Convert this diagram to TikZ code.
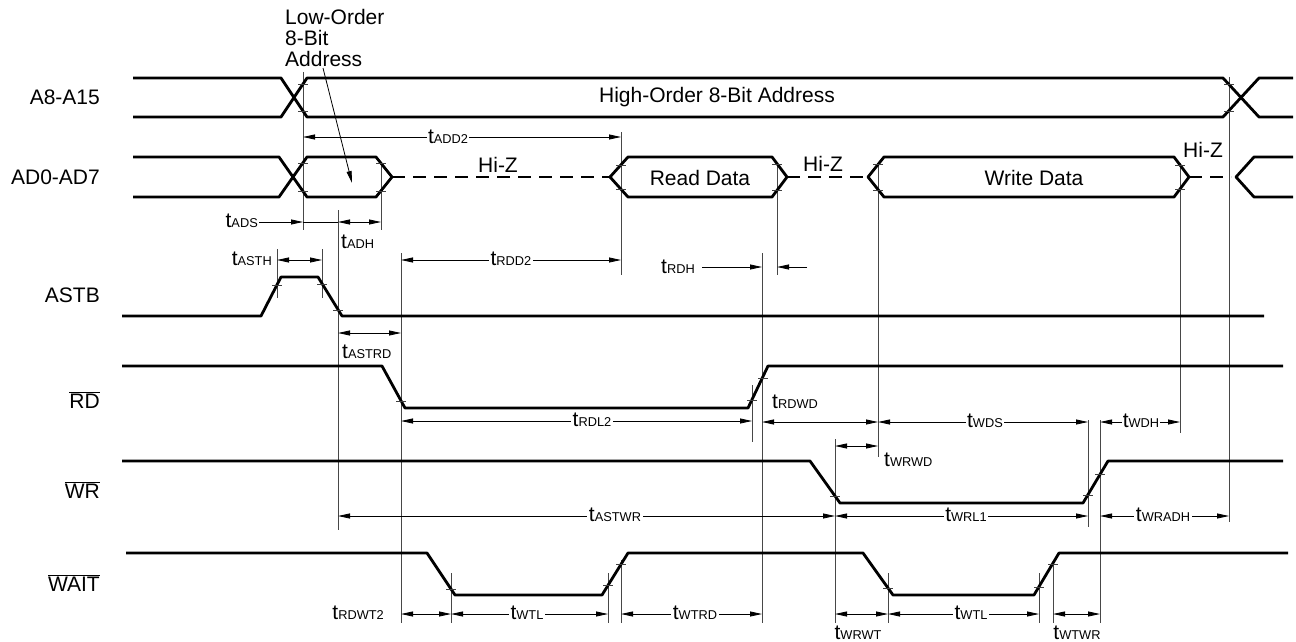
\documentclass[tikz,border=0pt]{standalone}
\usepackage{fontspec}
\setmainfont{Liberation Sans}
\usetikzlibrary{arrows.meta}
\newcommand\tlab[1]{{\fontsize{21}{21}\selectfont t}{\fontsize{12.8}{12.8}\selectfont #1}}
\newcommand\tickat[2]{\draw[tickst] (#1,#2) ++(-5,0) -- ++(10,0);}
\begin{document}
\begin{tikzpicture}[x=1pt,y=-1pt,
  font=\fontsize{21}{24}\selectfont,
  wave/.style={line width=2.8pt, line join=round},
  hiz/.style={line width=2.8pt, dash pattern=on 13pt off 8pt},
  vref/.style={line width=0.9pt, black!72},
  tickst/.style={line width=0.8pt, black!75},
  dim/.style={line width=0.8pt, {Triangle[length=12pt,width=5pt]}-{Triangle[length=12pt,width=5pt]}},
  dimr/.style={line width=0.8pt, -{Triangle[length=12pt,width=5pt]}},
  lbl/.style={fill=white, inner sep=1.5pt},
  sig/.style={anchor=east, inner sep=0pt},
  free/.style={inner sep=0pt}]
\useasboundingbox (0,0) rectangle (1296,642);

% ---------- signal names
\node[sig] (nA8) at (100,97) {A8-A15};
\node[sig] (nAD) at (100,177) {AD0-AD7};
\node[sig] (nASTB) at (100,295) {ASTB};
\node[sig] (nRD) at (100,400) {$\overline{\mbox{RD}}$};
\node[sig] (nWR) at (100,490) {$\overline{\mbox{WR}}$};
\node[sig] (nWAIT) at (100,583) {$\overline{\mbox{WAIT}}$};

% ---------- vertical reference lines
\draw[vref] (303,72) -- (303,230);
\draw[vref] (381,163) -- (381,230);
\draw[vref] (338,210) -- (338,530);
\draw[vref] (277,249) -- (277,298);
\draw[vref] (322,249) -- (322,298);
\draw[vref] (401,253) -- (401,623);
\draw[vref] (621,132) -- (621,275);
\draw[vref] (777,163) -- (777,275);
\draw[vref] (762,253) -- (762,623);
\draw[vref] (752,385) -- (752,442);
\draw[vref] (878,163) -- (878,457);
\draw[vref] (835,439) -- (835,623);
\draw[vref] (1088,420) -- (1088,527);
\draw[vref] (1100,420) -- (1100,623);
\draw[vref] (1180,163) -- (1180,433);
\draw[vref] (1229,77) -- (1229,522);
\draw[vref] (451,573) -- (451,623);
\draw[vref] (608,573) -- (608,623);
\draw[vref] (621,560) -- (621,623);
\draw[vref] (888,573) -- (888,623);
\draw[vref] (1039,573) -- (1039,623);
\draw[vref] (1053,560) -- (1053,623);

% ---------- A8-A15
\draw[wave] (133,78) -- (281,78) -- (307,117) -- (1223,117) -- (1259,78) -- (1293,78);
\draw[wave] (133,117) -- (281,117) -- (307,78) -- (1223,78) -- (1259,117) -- (1293,117);
\node[free] (hoa) at (717,97) {High-Order 8-Bit Address};
\tickat{303}{84}\tickat{303}{111}\tickat{1229}{84}\tickat{1229}{111}

% ---------- AD0-AD7
\draw[wave] (133,157) -- (279,157) -- (307,197) -- (376,197) -- (392,177) -- (376,157) -- (307,157) -- (279,197) -- (133,197);
\draw[hiz] (392,177) -- (610,177);
\draw[wave] (610,177) -- (628,157) -- (772,157) -- (787,177) -- (772,197) -- (628,197) -- cycle;
\draw[hiz] (787,177) -- (868,177);
\draw[wave] (868,177) -- (884,157) -- (1174,157) -- (1189,177) -- (1174,197) -- (884,197) -- cycle;
\draw[hiz] (1189,177) -- (1231,177);
\draw[wave] (1293,157) -- (1254,157) -- (1236,177) -- (1254,197) -- (1293,197);
\node[free] (rdata) at (700,178) {Read Data};
\node[free] (wdata) at (1034,178) {Write Data};
\node[free] (hz1) at (498,165) {Hi-Z};
\node[free] (hz2) at (823,164) {Hi-Z};
\node[free] (hz3) at (1203,150) {Hi-Z};
\tickat{303}{163}\tickat{303}{191}\tickat{381}{163}\tickat{381}{191}
\tickat{621}{165}\tickat{621}{189}\tickat{777}{164}\tickat{777}{190}
\tickat{878}{164}\tickat{878}{190}\tickat{1180}{165}\tickat{1180}{189}

% Low-order address annotation
\node[anchor=north west, inner sep=0pt, align=left, font=\fontsize{21}{21}\selectfont] (loa) at (285,9) {Low-Order\\8-Bit\\Address};
\coordinate (loaTip) at (352,183);
\draw[line width=0.8pt, -{Triangle[length=12pt,width=5pt]}] (323,68) -- (loaTip);

% ---------- ASTB
\draw[wave] (122,316) -- (261,316) -- (281,277) -- (318,277) -- (342,316) -- (1264,316);
\tickat{277}{285}\tickat{322}{284}\tickat{338}{310}

% ---------- RD
\draw[wave] (122,366) -- (382,366) -- (405,408) -- (748,408) -- (768,366) -- (1283,366);
\tickat{401}{401}\tickat{752}{400}\tickat{763}{378}

% ---------- WR
\draw[wave] (122,461) -- (810,461) -- (840,503) -- (1083,503) -- (1108,461) -- (1283,461);
\tickat{835}{496}\tickat{1088}{495}\tickat{1100}{474}

% ---------- WAIT
\draw[wave] (126,553) -- (427,553) -- (455,595) -- (602,595) -- (628,553) -- (863,553) -- (893,595) -- (1034,595) -- (1059,553) -- (1288,553);
\tickat{451}{589}\tickat{608}{585}\tickat{621}{564}\tickat{888}{588}\tickat{1039}{587}\tickat{1053}{564}

% ---------- timing parameters
% tADD2
\draw[dim] (303,137) -- (621,137);
\node[lbl] (tADD) at (448,137) {\tlab{ADD2}};
% tADS / tADH
\node[anchor=east, inner sep=1pt] (tADS) at (259,221) {\tlab{ADS}};
\draw[dimr] (tADS.east |- 0,222) -- (303,222);
\draw[line width=0.8pt] (303,222) -- (338,222);
\draw[dim] (338,222) -- (381,222);
\node[anchor=west, inner sep=0pt] (tADH) at (341,242) {\tlab{ADH}};
% tASTH
\node[anchor=east, inner sep=0pt] (tASTH) at (272,259) {\tlab{ASTH}};
\draw[dim] (277,260) -- (322,260);
% tRDD2
\draw[dim] (401,260) -- (621,260);
\node[lbl] (tRDD) at (511,259) {\tlab{RDD2}};
% tRDH
\node[anchor=east, inner sep=0pt] (tRDH) at (695,267) {\tlab{RDH}};
\draw[dimr] (702,267) -- (762,267);
\draw[dimr] (807,267) -- (777,267);
% tASTRD
\draw[dim] (338,333) -- (401,333);
\node[anchor=west, inner sep=0pt] (tASTRD) at (342,352) {\tlab{ASTRD}};
% tRDL2
\draw[dim] (401,421) -- (752,421);
\node[lbl] (tRDL) at (592,420) {\tlab{RDL2}};
% tRDWD, tWDS, tWDH
\node[anchor=west, inner sep=0pt] (tRDWD) at (772,402) {\tlab{RDWD}};
\draw[dim] (762,422) -- (878,422);
\draw[dim] (878,422) -- (1088,422);
\node[lbl] (tWDS) at (985,421) {\tlab{WDS}};
\draw[dim] (1100,422) -- (1180,422);
\node[lbl, inner sep=0.5pt] (tWDH) at (1141,421) {\tlab{WDH}};
% tWRWD
\draw[dim] (835,446) -- (878,446);
\node[anchor=west, inner sep=0pt] (tWRWD) at (884,460) {\tlab{WRWD}};
% tASTWR, tWRL1, tWRADH
\draw[dim] (338,516) -- (835,516);
\node[lbl] (tASTWR) at (615,515) {\tlab{ASTWR}};
\draw[dim] (835,516) -- (1088,516);
\node[lbl] (tWRL) at (966,515) {\tlab{WRL1}};
\draw[dim] (1100,516) -- (1229,516);
\node[lbl] (tWRADH) at (1163,515) {\tlab{WRADH}};
% WAIT row
\node[anchor=east, inner sep=0pt] (tRDWT) at (384,613) {\tlab{RDWT2}};
\draw[dim] (401,614) -- (451,614);
\draw[dim] (451,614) -- (608,614);
\node[lbl] (tWTL1) at (527,613) {\tlab{WTL}};
\draw[dim] (621,614) -- (762,614);
\node[lbl] (tWTRD) at (695,613) {\tlab{WTRD}};
\draw[dim] (835,614) -- (888,614);
\node[inner sep=0pt] (tWRWT) at (858,633) {\tlab{WRWT}};
\draw[dim] (888,614) -- (1039,614);
\node[lbl] (tWTL2) at (971,613) {\tlab{WTL}};
\draw[dim] (1053,614) -- (1100,614);
\node[inner sep=0pt] (tWTWR) at (1077,633) {\tlab{WTWR}};
\end{tikzpicture}
\end{document}
